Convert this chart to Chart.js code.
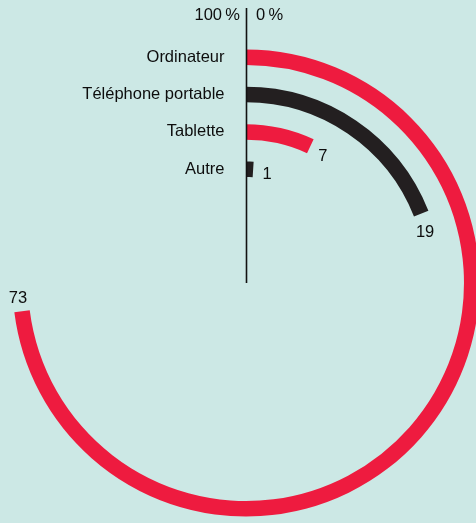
<!DOCTYPE html>
<html>
<head>
<meta charset="utf-8">
<script src="https://cdn.jsdelivr.net/npm/chart.js@4.4.0/dist/chart.umd.min.js"></script>
<style>
  html, body { margin: 0; padding: 0; background: #cce8e5; overflow: hidden; }
  #wrap { position: absolute; left: 0; top: 0; width: 492px; height: 523px; }
</style>
</head>
<body>
<div id="wrap"><canvas id="chart" width="492" height="523"></canvas></div>
<script>
// data
const categories = ['Ordinateur', 'Téléphone portable', 'Tablette', 'Autre'];
const shares = [73, 19, 7, 1];
const scaleLabels = ['100\u202F%', '0\u202F%'];
const ringColors = ['#ee1b3f', '#231f20', '#ee1b3f', '#231f20'];

const FONT = '16.5px "Liberation Sans", Arial, sans-serif';
const INK = '#0d0d0d';

// one ring per category, with a transparent spacer ring between them
const datasets = [];
const ringIndex = [];
categories.forEach((cat, i) => {
    ringIndex.push(datasets.length);
    datasets.push({
        label: cat,
        data: [shares[i], 100 - shares[i]],
        backgroundColor: [ringColors[i], 'rgba(0,0,0,0)'],
        borderWidth: 0,
        weight: 15.5
    });
    if (i < categories.length - 1) {
        datasets.push({
            label: 'gap',
            data: [100],
            backgroundColor: ['rgba(0,0,0,0)'],
            borderWidth: 0,
            weight: 21.8
        });
    }
});

// labels, axis line and values
const annotations = {
    id: 'annotations',
    afterDatasetsDraw(chart) {
        const ctx = chart.ctx;
        const first = chart.getDatasetMeta(ringIndex[0]).data[0];
        const cx = first.x, cy = first.y;

        ctx.save();
        // vertical line from top down to the centre
        ctx.strokeStyle = '#111';
        ctx.lineWidth = 1.6;
        ctx.beginPath();
        ctx.moveTo(246.5, 8);
        ctx.lineTo(246.5, cy);
        ctx.stroke();

        ctx.font = FONT;
        ctx.fillStyle = INK;
        ctx.textBaseline = 'middle';

        ctx.textAlign = 'right';
        ctx.fillText(scaleLabels[0], 240, 15);
        ctx.textAlign = 'left';
        ctx.fillText(scaleLabels[1], 256, 15);

        categories.forEach((cat, i) => {
            const arc = chart.getDatasetMeta(ringIndex[i]).data[0];
            const r = (arc.innerRadius + arc.outerRadius) / 2;
            // category name at the start of the ring
            ctx.textAlign = 'right';
            ctx.fillText(cat, 224.5, cy - r);
            // value just past the end of the ring
            const a = arc.endAngle;
            const tx = cx + r * Math.cos(a) - 16 * Math.sin(a) - 2;
            const ty = cy + r * Math.sin(a) + 16 * Math.cos(a) + 3.5;
            ctx.textAlign = 'center';
            ctx.fillText(String(shares[i]), tx, ty);
        });
        ctx.restore();
    }
};

new Chart(document.getElementById('chart'), {
    type: 'doughnut',
    data: { labels: ['value', 'rest'], datasets: datasets },
    options: {
        responsive: false,
        animation: false,
        events: [],
        cutout: '45.4%',
        layout: { padding: { left: 12.5, right: 12.5, top: 49.5, bottom: 6.5 } },
        plugins: {
            legend: { display: false },
            tooltip: { enabled: false }
        }
    },
    plugins: [annotations]
});
</script>
</body>
</html>
